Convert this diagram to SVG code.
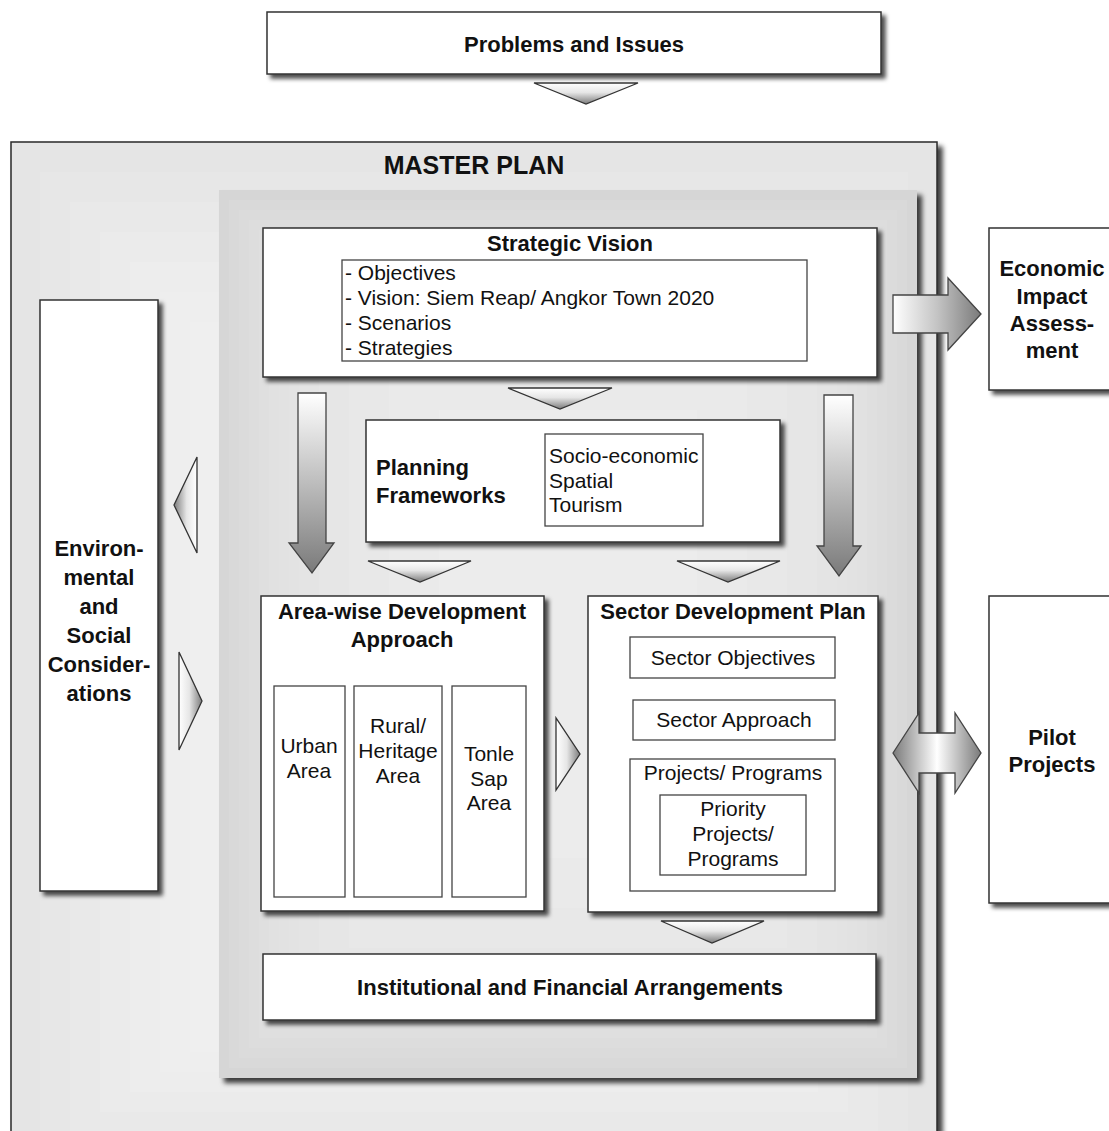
<svg xmlns="http://www.w3.org/2000/svg" width="1109" height="1131" viewBox="0 0 1109 1131">
  <style>
    .box { fill: #ffffff; stroke: #333333; stroke-width: 1.5; }
    .sub { fill: #ffffff; stroke: #444444; stroke-width: 1.3; }
    .txt { font-family: "Liberation Sans", Arial, Helvetica, sans-serif; fill: #111111; }
    .b { font-weight: bold; font-size: 22px; }
    .r { font-size: 21px; }
    .mid { text-anchor: middle; }
    .tri { stroke: #333333; stroke-width: 1.3; stroke-linejoin: miter; }
    .blk { stroke: #444444; stroke-width: 1.3; }
  </style>
  <defs>
    <filter id="shadow" x="-10%" y="-10%" width="130%" height="130%">
      <feDropShadow dx="4" dy="4" stdDeviation="2.2" flood-color="#000000" flood-opacity="0.7"/>
    </filter>
    <filter id="panelShadow" x="-5%" y="-5%" width="115%" height="115%">
      <feDropShadow dx="5" dy="5" stdDeviation="2.5" flood-color="#000000" flood-opacity="0.75"/>
    </filter>
    <linearGradient id="gDown" x1="0" y1="0" x2="0" y2="1">
      <stop offset="0" stop-color="#ffffff"/>
      <stop offset="0.45" stop-color="#e6e6e6"/>
      <stop offset="1" stop-color="#7c7c7c"/>
    </linearGradient>
    <linearGradient id="gLeft" x1="0" y1="0" x2="1" y2="0">
      <stop offset="0" stop-color="#7c7c7c"/>
      <stop offset="0.55" stop-color="#e6e6e6"/>
      <stop offset="1" stop-color="#ffffff"/>
    </linearGradient>
    <linearGradient id="gRight" x1="0" y1="0" x2="1" y2="0">
      <stop offset="0" stop-color="#ffffff"/>
      <stop offset="0.45" stop-color="#e6e6e6"/>
      <stop offset="1" stop-color="#7c7c7c"/>
    </linearGradient>
    <linearGradient id="gShaftDown" x1="0" y1="0" x2="0" y2="1">
      <stop offset="0" stop-color="#ffffff"/>
      <stop offset="0.5" stop-color="#bdbdbd"/>
      <stop offset="1" stop-color="#7a7a7a"/>
    </linearGradient>
    <linearGradient id="gShaftRight" x1="0" y1="0" x2="1" y2="0">
      <stop offset="0" stop-color="#ffffff"/>
      <stop offset="0.5" stop-color="#c4c4c4"/>
      <stop offset="1" stop-color="#7a7a7a"/>
    </linearGradient>
    <linearGradient id="gBoth" x1="0" y1="0" x2="1" y2="0">
      <stop offset="0" stop-color="#7a7a7a"/>
      <stop offset="0.5" stop-color="#ffffff"/>
      <stop offset="1" stop-color="#7a7a7a"/>
    </linearGradient>
  </defs>

  <rect width="1109" height="1131" fill="#ffffff"/>

  <!-- Top input -->
  <g id="problems">
    <rect class="box" x="267" y="12" width="614" height="62" filter="url(#shadow)"/>
    <text class="txt b mid" x="574" y="52">Problems and Issues</text>
  </g>

  <!-- Master plan frame with stepped background -->
  <g id="master-plan">
    <rect x="11" y="142" width="926" height="1000" fill="#e5e5e5" stroke="#2a2a2a" stroke-width="1.5" filter="url(#panelShadow)"/>
    <rect x="40" y="172" width="868" height="960" fill="#e7e7e7"/>
    <rect x="70" y="202" width="808" height="930" fill="#e9e9e9"/>
    <rect x="100" y="232" width="748" height="880" fill="#ebebeb"/>
    <rect x="130" y="262" width="688" height="830" fill="#ededed"/>
    <rect x="160" y="292" width="628" height="780" fill="#eeeeee"/>
    <rect x="190" y="322" width="568" height="730" fill="#efefef"/>
    <rect x="220" y="352" width="508" height="680" fill="#f0f0f0"/>
    <text class="txt mid" x="474" y="174" style="font-weight:bold;font-size:25px">MASTER PLAN</text>
  </g>

  <!-- Inner planning panel -->
  <g id="core-panel">
    <rect x="219" y="190" width="698" height="888" fill="#d6d6d6" filter="url(#panelShadow)"/>
    <rect x="229" y="200" width="678" height="868" fill="#d9d9d9"/>
    <rect x="239" y="210" width="658" height="848" fill="#dbdbdb"/>
    <rect x="249" y="220" width="638" height="828" fill="#dddddd"/>
    <rect x="259" y="230" width="618" height="808" fill="#dfdfdf"/>
    <rect x="269" y="240" width="598" height="788" fill="#e1e1e1"/>
    <rect x="279" y="250" width="578" height="768" fill="#e2e2e2"/>
    <rect x="289" y="260" width="558" height="748" fill="#e3e3e3"/>
    <rect x="299" y="270" width="538" height="728" fill="#e4e4e4"/>
    <rect x="319" y="290" width="498" height="688" fill="#e6e6e6"/>
    <rect x="349" y="320" width="438" height="628" fill="#e8e8e8"/>
    <rect x="389" y="360" width="358" height="548" fill="#eaeaea"/>
    <rect x="439" y="410" width="258" height="448" fill="#ececec"/>
  </g>

  <!-- Connectors -->
  <g id="connectors">
    <polygon class="tri" points="534,83 638,83 586,104" fill="url(#gDown)"/>
    <polygon class="tri" points="508,388 612,388 560,409" fill="url(#gDown)"/>
    <polygon class="tri" points="368,561 471,561 420,582" fill="url(#gDown)"/>
    <polygon class="tri" points="677,561 780,561 728,582" fill="url(#gDown)"/>
    <polygon class="tri" points="661,921 764,921 712,943" fill="url(#gDown)"/>
    <polygon class="tri" points="556,718 556,790 580,754" fill="url(#gRight)"/>
    <polygon class="tri" points="197,457 197,553 174,505" fill="url(#gLeft)"/>
    <polygon class="tri" points="179,652 179,750 202,701" fill="url(#gRight)"/>
    <path class="blk" d="M298,393 H326 V543 H334 L312,573 L289,543 H298 Z" fill="url(#gShaftDown)"/>
    <path class="blk" d="M824,395 H853 V546 H861 L839,576 L817,546 H824 Z" fill="url(#gShaftDown)"/>
    <path class="blk" d="M893,295 H948 V278 L981,314 L948,350 V333 H893 Z" fill="url(#gShaftRight)"/>
    <path class="blk" d="M893,753 L919,713 V733 H955 V713 L981,753 L955,793 V773 H919 V793 Z" fill="url(#gBoth)"/>
  </g>

  <g id="strategic-vision">
    <rect class="box" x="263" y="228" width="614" height="149" filter="url(#shadow)"/>
    <text class="txt b mid" x="570" y="251">Strategic Vision</text>
    <rect class="sub" x="342" y="260" width="465" height="101"/>
    <text class="txt r" x="345" y="280">- Objectives</text>
    <text class="txt r" x="345" y="305">- Vision: Siem Reap/ Angkor Town 2020</text>
    <text class="txt r" x="345" y="330">- Scenarios</text>
    <text class="txt r" x="345" y="355">- Strategies</text>
  </g>

  <g id="planning-frameworks">
    <rect class="box" x="366" y="420" width="414" height="122" filter="url(#shadow)"/>
    <text class="txt b" x="376" y="475">Planning</text>
    <text class="txt b" x="376" y="503">Frameworks</text>
    <rect class="sub" x="545" y="434" width="158" height="92"/>
    <text class="txt r" x="549" y="463">Socio-economic</text>
    <text class="txt r" x="549" y="488">Spatial</text>
    <text class="txt r" x="549" y="512">Tourism</text>
  </g>

  <g id="area-wise">
    <rect class="box" x="261" y="596" width="283" height="315" filter="url(#shadow)"/>
    <text class="txt b mid" x="402" y="619">Area-wise Development</text>
    <text class="txt b mid" x="402" y="647">Approach</text>
    <rect class="sub" x="274" y="686" width="71" height="211"/>
    <rect class="sub" x="354" y="686" width="88" height="211"/>
    <rect class="sub" x="452" y="686" width="74" height="211"/>
    <text class="txt r mid" x="309" y="753">Urban</text>
    <text class="txt r mid" x="309" y="778">Area</text>
    <text class="txt r mid" x="398" y="733">Rural/</text>
    <text class="txt r mid" x="398" y="758">Heritage</text>
    <text class="txt r mid" x="398" y="783">Area</text>
    <text class="txt r mid" x="489" y="761">Tonle</text>
    <text class="txt r mid" x="489" y="786">Sap</text>
    <text class="txt r mid" x="489" y="810">Area</text>
  </g>

  <g id="sector-plan">
    <rect class="box" x="588" y="596" width="290" height="316" filter="url(#shadow)"/>
    <text class="txt b mid" x="733" y="619">Sector Development Plan</text>
    <rect class="sub" x="630" y="637" width="205" height="41"/>
    <text class="txt r mid" x="733" y="665">Sector Objectives</text>
    <rect class="sub" x="633" y="700" width="202" height="40"/>
    <text class="txt r mid" x="734" y="727">Sector Approach</text>
    <rect class="sub" x="630" y="759" width="205" height="132"/>
    <text class="txt r mid" x="733" y="780">Projects/ Programs</text>
    <rect class="sub" x="660" y="795" width="146" height="80"/>
    <text class="txt r mid" x="733" y="816">Priority</text>
    <text class="txt r mid" x="733" y="841">Projects/</text>
    <text class="txt r mid" x="733" y="866">Programs</text>
  </g>

  <g id="institutional">
    <rect class="box" x="263" y="954" width="613" height="66" filter="url(#shadow)"/>
    <text class="txt b mid" x="570" y="995">Institutional and Financial Arrangements</text>
  </g>

  <g id="environmental">
    <rect class="box" x="40" y="300" width="118" height="591" filter="url(#shadow)"/>
    <text class="txt b mid" x="99" y="556">Environ-</text>
    <text class="txt b mid" x="99" y="585">mental</text>
    <text class="txt b mid" x="99" y="614">and</text>
    <text class="txt b mid" x="99" y="643">Social</text>
    <text class="txt b mid" x="99" y="672">Consider-</text>
    <text class="txt b mid" x="99" y="701">ations</text>
  </g>

  <g id="economic-impact">
    <rect class="box" x="989" y="228" width="140" height="162" filter="url(#shadow)"/>
    <text class="txt b mid" x="1052" y="276">Economic</text>
    <text class="txt b mid" x="1052" y="304">Impact</text>
    <text class="txt b mid" x="1052" y="331">Assess-</text>
    <text class="txt b mid" x="1052" y="358">ment</text>
  </g>

  <g id="pilot-projects">
    <rect class="box" x="989" y="596" width="140" height="307" filter="url(#shadow)"/>
    <text class="txt b mid" x="1052" y="745">Pilot</text>
    <text class="txt b mid" x="1052" y="772">Projects</text>
  </g>
</svg>
